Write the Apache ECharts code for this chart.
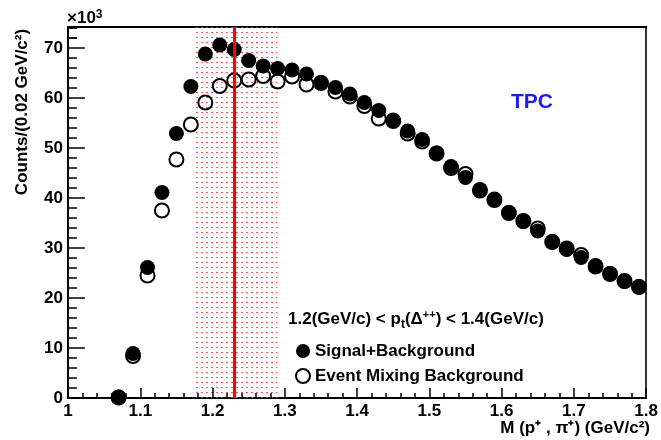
<!DOCTYPE html>
<html><head><meta charset="utf-8">
<script src="https://cdn.jsdelivr.net/npm/echarts@6/dist/echarts.min.js"></script>
<style>html,body{margin:0;padding:0;background:#fff}#c{width:661px;height:440px}</style>
</head><body><div id="c"></div>
<script>
var mass = [1.07,1.09,1.11,1.13,1.15,1.17,1.19,1.21,1.23,1.25,1.27,1.29,1.31,1.33,1.35,1.37,1.39,1.41,1.43,1.45,1.47,1.49,1.51,1.53,1.55,1.57,1.59,1.61,1.63,1.65,1.67,1.69,1.71,1.73,1.75,1.77,1.79];
var signalBg = [0.2,8.9,26.1,41.1,52.9,62.3,68.8,70.6,69.7,67.5,66.4,65.9,65.6,64.8,63.1,62.1,60.8,59.1,57.5,55.6,53.4,51.7,49.0,46.3,44.1,41.7,39.8,37.1,35.3,33.4,31.3,29.7,28.1,26.5,24.9,23.3,22.3];
var mixingBg = [0.1,8.4,24.5,37.5,47.7,54.7,59.1,62.4,63.5,63.7,64.4,63.3,64.3,62.7,63.0,61.3,60.3,58.4,55.9,55.4,52.9,51.3,48.9,46.0,44.8,41.5,39.6,37.0,35.4,33.9,31.2,29.9,28.6,26.3,24.8,23.4,22.2];
var peakLine = 1.232;
var bandRange = [1.175, 1.29];
var xTicks = [1,1.1,1.2,1.3,1.4,1.5,1.6,1.7,1.8];
var yTicks = [0,10,20,30,40,50,60,70];

var FONT = '"Liberation Sans", Arial, Helvetica, sans-serif';
var G = {left:68, right:11, top:27, bottom:42, W:661, H:440};
var X0 = 1, X1 = 1.8, Y0 = 0, Y1 = 74.2;
var pxPerY = (G.H - G.top - G.bottom) / (Y1 - Y0);
var pxPerX = (G.W - G.left - G.right) / (X1 - X0);

var pc = document.createElement('canvas'); pc.width = 5; pc.height = 5;
var pctx = pc.getContext('2d');
pctx.fillStyle = 'rgba(255,50,50,0.85)';
pctx.fillRect(1,2,2,1);

function pairs(xs, ys){ return xs.map(function(x,i){return [x, ys[i]];}); }

// inward tick marks as markLine segments (major + 4 minor per interval)
var tickLines = [];
function xTick(t, px){ tickLines.push([{coord:[t, Y0]},{coord:[t, Y0 + px/pxPerY]}]); }
function yTick(v, px){ tickLines.push([{coord:[X0, v]},{coord:[X0 + px/pxPerX, v]}]); }
xTicks.forEach(function(t,i){
  xTick(t, 10);
  if (i < xTicks.length-1) for (var k=1;k<5;k++) xTick(+(t + k*0.02).toFixed(3), 5);
});
yTicks.forEach(function(t){
  yTick(t, 17);
  for (var k=1;k<5;k++) yTick(t + k*2, 9);
});
yTick(72, 9); yTick(74, 9);

var xBase = {type:'value',min:X0,max:X1,interval:0.1,splitLine:{show:false}};
var yBase = {type:'value',min:Y0,max:Y1,interval:10,splitLine:{show:false}};
function merge(a,b){ var o={},k; for(k in a)o[k]=a[k]; for(k in b)o[k]=b[k]; return o; }
var frameLS = {color:'#000',width:2};

var chart = echarts.init(document.getElementById('c'), null, {renderer:'canvas'});
chart.setOption({
  animation:false,
  grid:{left:G.left,right:G.right,top:G.top,bottom:G.bottom,show:false},
  xAxis:[
    merge(xBase,{position:'bottom',
      axisLine:{show:true,onZero:false,lineStyle:frameLS},
      axisTick:{show:false},minorTick:{show:false},
      axisLabel:{color:'#000',fontSize:17,fontWeight:'bold',fontFamily:FONT,margin:5,
        formatter:function(v){ var r=Math.round(v*10)/10; return r===1?'1':r.toFixed(1);} }}),
    merge(xBase,{position:'top',
      axisLine:{show:true,onZero:false,lineStyle:frameLS},
      axisTick:{show:false},minorTick:{show:false},axisLabel:{show:false}})
  ],
  yAxis:[
    merge(yBase,{position:'left',
      axisLine:{show:true,onZero:false,lineStyle:frameLS},
      axisTick:{show:false},minorTick:{show:false},
      axisLabel:{color:'#000',fontSize:17,fontWeight:'bold',fontFamily:FONT,margin:5,showMaxLabel:false,
        formatter:function(v){ return yTicks.indexOf(Math.round(v))>=0 && Math.abs(v-Math.round(v))<1e-6 ? String(Math.round(v)) : ''; } }}),
    merge(yBase,{position:'right',
      axisLine:{show:true,onZero:false,lineStyle:{color:'#333',width:2}},
      axisTick:{show:false},minorTick:{show:false},axisLabel:{show:false}})
  ],
  legend:{orient:'vertical',left:290,top:337,itemWidth:14,itemHeight:14,itemGap:7,
    data:['Signal+Background','Event Mixing Background'],
    textStyle:{fontSize:17,lineHeight:18,fontWeight:'bold',fontFamily:FONT,color:'#000'}},
  series:[
    {name:'band',type:'line',data:[],silent:true,z:1,
      markArea:{silent:true,itemStyle:{color:{image:pc,repeat:'repeat'}},data:[[{xAxis:bandRange[0]},{xAxis:bandRange[1]}]]}},
    {name:'ticks',type:'line',data:[],silent:true,z:2,
      markLine:{silent:true,animation:false,symbol:['none','none'],label:{show:false},
        lineStyle:{color:'#000',width:1.5,type:'solid'},emphasis:{disabled:true},data:tickLines}},
    {name:'Event Mixing Background',type:'scatter',symbol:'circle',symbolSize:14,z:3,
      itemStyle:{color:'rgba(255,255,255,0)',borderColor:'#000',borderWidth:2,opacity:1},
      data:pairs(mass,mixingBg)},
    {name:'Signal+Background',type:'scatter',symbol:'circle',symbolSize:15,z:4,
      itemStyle:{color:'#000',opacity:1},
      data:pairs(mass,signalBg)},
    {name:'line',type:'line',data:[],z:6,
      markLine:{silent:true,symbol:['none','none'],label:{show:false},
        lineStyle:{color:'#ff0000',width:3,type:'solid'},data:[{xAxis:peakLine}]}}
  ],
  graphic:[
    {type:'text',left:67,top:9,style:{rich:{a:{fontSize:17,fontWeight:'bold',fontFamily:FONT,fill:'#000'},s:{fontSize:12,fontWeight:'bold',fontFamily:FONT,fill:'#000',verticalAlign:'top',padding:[0,0,7,0]}},text:'{a|×10}{s|3}'}},
    {type:'text',left:511,top:92,style:{text:'TPC',fontSize:21,fontWeight:'bold',fontFamily:FONT,fill:'#1a1aff'}},
    {type:'text',x:22,y:112,rotation:Math.PI/2,style:{text:'Counts/(0.02 GeV/c²)',fontSize:17,fontWeight:'bold',fontFamily:FONT,fill:'#000',align:'center',verticalAlign:'middle'}},
    {type:'text',right:11,top:420,style:{text:'M (p⁺ , π⁺) (GeV/c²)',fontSize:17,fontWeight:'bold',fontFamily:FONT,fill:'#000'}},
    {type:'text',left:288,top:309,style:{
      rich:{a:{fontSize:17,fontWeight:'bold',fontFamily:FONT,fill:'#000'},
            sub:{fontSize:12,fontWeight:'bold',fontFamily:FONT,fill:'#000',padding:[11,0,0,0]},
            sup:{fontSize:11,fontWeight:'bold',fontFamily:FONT,fill:'#000',padding:[0,0,10,0]}},
      text:'{a|1.2(GeV/c) < p}{sub|t}{a|(Δ}{sup|++}{a|) < 1.4(GeV/c)}'}}
  ]
});
</script></body></html>
